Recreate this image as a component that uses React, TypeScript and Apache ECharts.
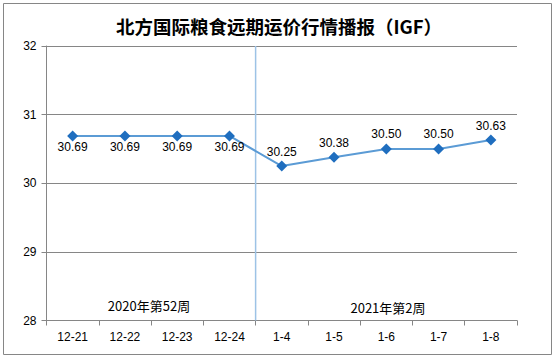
import React, { useEffect, useRef } from "react";
import * as echarts from "echarts";

const categories = ["12-21", "12-22", "12-23", "12-24", "1-4", "1-5", "1-6", "1-7", "1-8"];
const values = [30.69, 30.69, 30.69, 30.69, 30.25, 30.38, 30.5, 30.5, 30.63];
const labelPositions = ["bottom", "bottom", "bottom", "bottom", "top", "top", "top", "top", "top"];
const separatorAt = 4; // boundary index between the two weeks
const yMin = 28;
const yMax = 32;
const titleText = "北方国际粮食远期运价行情播报（IGF）";
const weekLabels = ["2020年第52周", "2021年第2周"];

export default function App() {
  const ref = useRef<HTMLDivElement>(null);
  useEffect(() => {
    const chart = echarts.init(ref.current!, undefined, { renderer: "svg" });
    chart.setOption({
      animation: false,
      backgroundColor: "#ffffff",
      title: {
        text: titleText,
        left: "center",
        top: 12,
        textStyle: { fontFamily: "Noto Sans CJK SC", fontWeight: "bold", fontSize: 18.5, color: "#000" },
      },
      grid: { left: 46.5, right: 41, top: 46, bottom: 39.5 },
      xAxis: [
        {
          type: "category",
          data: categories,
          boundaryGap: true,
          axisLine: { show: true, lineStyle: { color: "#868686", width: 1 } },
          axisTick: { show: true, length: 5, lineStyle: { color: "#868686" } },
          axisLabel: { color: "#000", fontFamily: "Liberation Sans", fontSize: 12, margin: 10 },
          splitLine: { show: false },
        },
        {
          type: "value",
          min: 0,
          max: categories.length,
          show: false,
        },
      ],
      yAxis: {
        type: "value",
        min: yMin,
        max: yMax,
        interval: 1,
        axisLine: { show: true, lineStyle: { color: "#868686", width: 1 } },
        axisTick: { show: true, length: 5, lineStyle: { color: "#868686" } },
        axisLabel: { color: "#000", fontFamily: "Liberation Sans", fontSize: 12, margin: 10 },
        splitLine: { show: true, lineStyle: { color: "#868686", width: 1 } },
      },
      series: [
        {
          type: "line",
          xAxisIndex: 1,
          data: [
            [separatorAt, yMin],
            [separatorAt, yMax],
          ],
          symbol: "none",
          silent: true,
          lineStyle: { color: "#9dc3e6", width: 1.5 },
          z: 1,
        },
        {
          type: "line",
          xAxisIndex: 0,
          data: values.map((v, i) => ({
            value: v,
            label: {
              position: labelPositions[i],
              distance: labelPositions[i] === "top" ? 3 : 0,
            },
          })),
          symbol: "diamond",
          symbolSize: 11,
          lineStyle: { color: "#5b9bd5", width: 2 },
          itemStyle: { color: "#1f6ebf" },
          label: {
            show: true,
            formatter: (p: any) => Number(p.value).toFixed(2),
            color: "#000",
            fontFamily: "Liberation Sans",
            fontSize: 12,
          },
          z: 3,
        },
      ],
      graphic: [
        {
          type: "rect",
          shape: { x: 3.5, y: 3.5, width: 548, height: 351 },
          style: { fill: "none", stroke: "#868686", lineWidth: 1 },
          silent: true,
        },
        {
          type: "text",
          x: 149,
          y: 305,
          style: {
            text: weekLabels[0],
            fontFamily: "Noto Sans CJK SC",
            fontSize: 13,
            fill: "#000",
            align: "center",
            verticalAlign: "middle",
          },
        },
        {
          type: "text",
          x: 388,
          y: 307,
          style: {
            text: weekLabels[1],
            fontFamily: "Noto Sans CJK SC",
            fontSize: 13,
            fill: "#000",
            align: "center",
            verticalAlign: "middle",
          },
        },
      ],
    });
    return () => chart.dispose();
  }, []);
  return <div ref={ref} style={{ position: "fixed", left: 0, top: 0, width: 558, height: 360 }} />;
}
